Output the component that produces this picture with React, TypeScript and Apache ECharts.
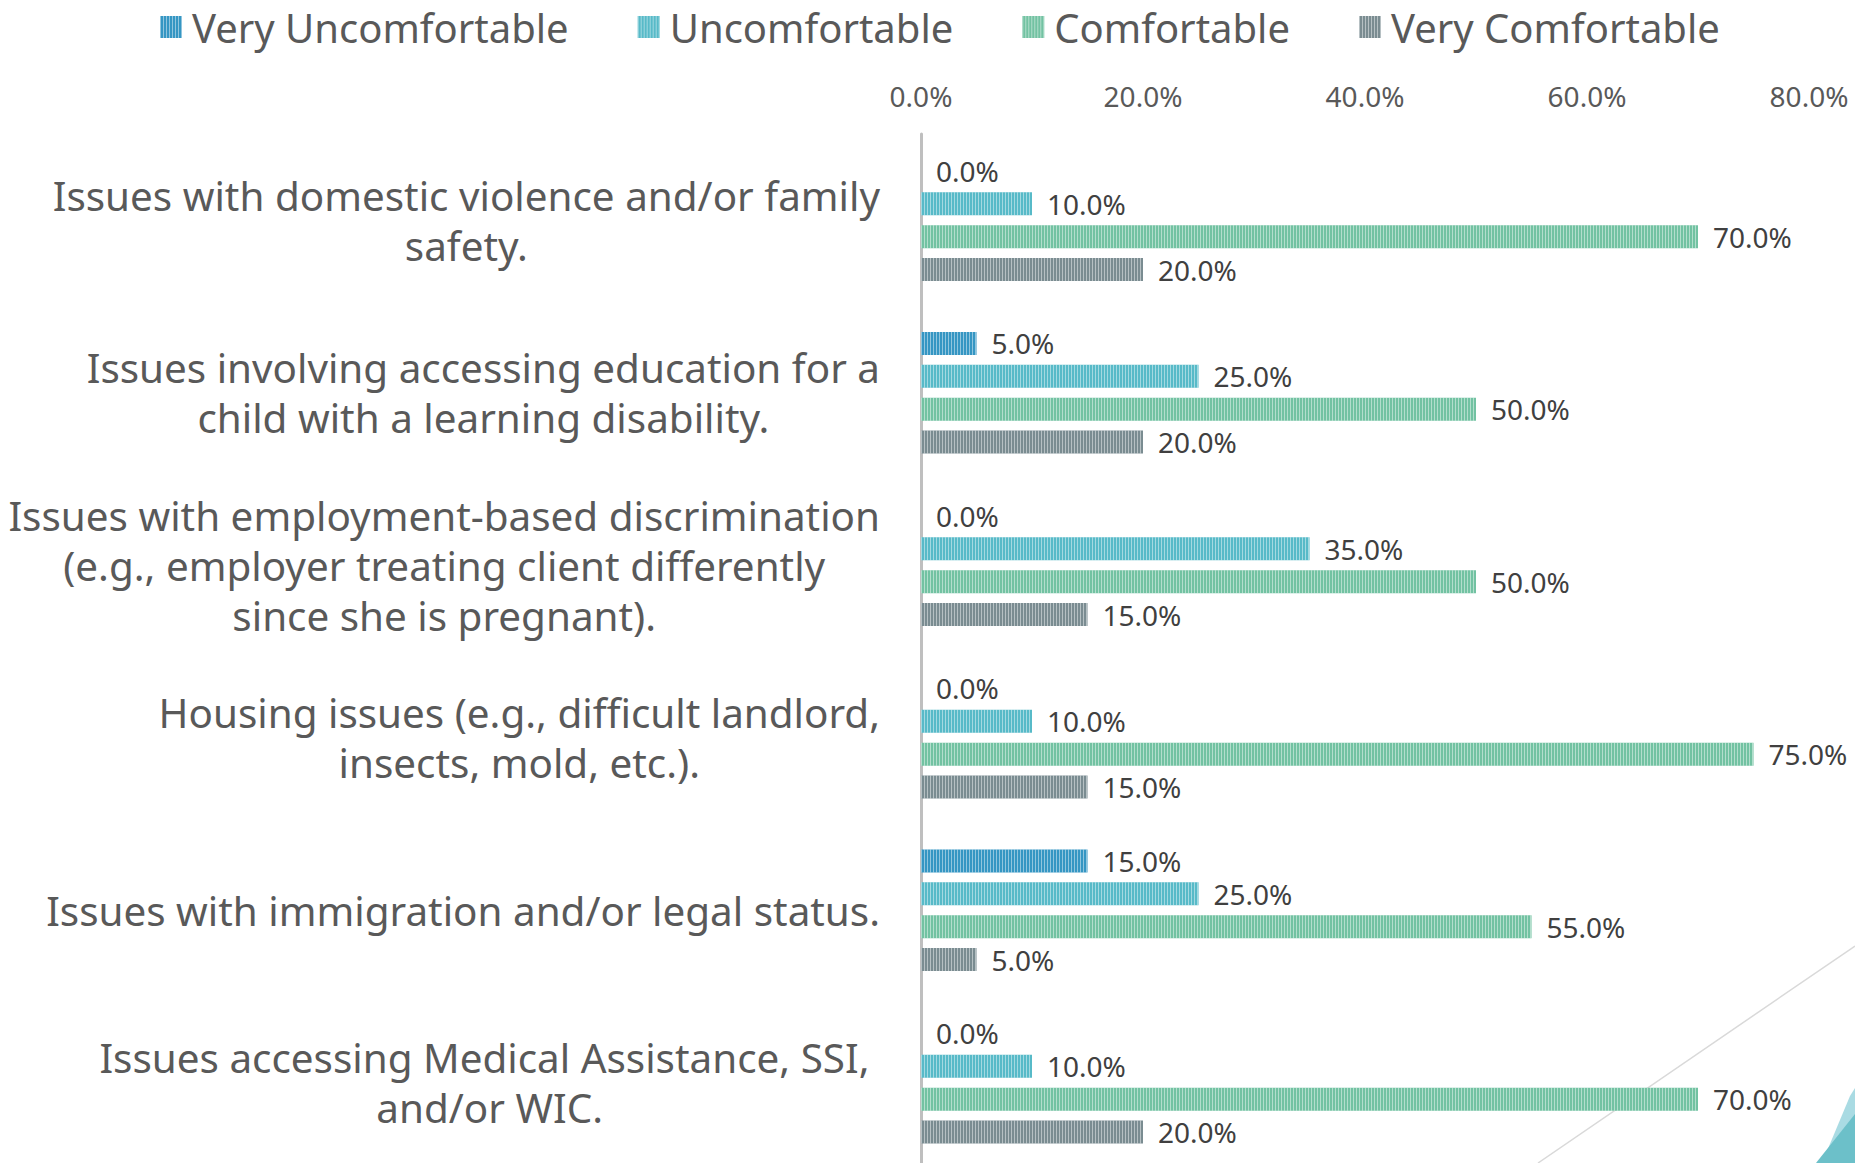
import React, { useEffect, useRef } from "react";
import * as echarts from "echarts";

const categories: string[] = [
  "Issues with domestic violence and/or family\nsafety.",
  "Issues involving accessing education for a\nchild with a learning disability.",
  "Issues with employment-based discrimination\n(e.g., employer treating client differently\nsince she is pregnant).",
  "Housing issues (e.g., difficult landlord,\ninsects, mold, etc.).",
  "Issues with immigration and/or legal status.",
  "Issues accessing Medical Assistance, SSI, \nand/or WIC.",
];

const seriesNames: string[] = ["Very Uncomfortable", "Uncomfortable", "Comfortable", "Very Comfortable"];
const veryUncomfortable: number[] = [0, 5, 0, 0, 15, 0];
const uncomfortable: number[] = [10, 25, 35, 10, 25, 10];
const comfortable: number[] = [70, 50, 50, 75, 55, 70];
const veryComfortable: number[] = [20, 20, 15, 15, 5, 20];
const seriesColors: string[] = ["#3596c3", "#57bac8", "#72c2a2", "#7a8c91"];
const xTicks = { min: 0, max: 80, interval: 20 };

const FONT = "'Noto Sans', 'Open Sans', sans-serif";

export default function App() {
  const ref = useRef<HTMLDivElement>(null);
  useEffect(() => {
    if (!ref.current) return;
    const chart = echarts.init(ref.current, undefined, { renderer: "svg" });
    const values = [veryUncomfortable, uncomfortable, comfortable, veryComfortable];
    const series = seriesNames.map((name, i) => ({
      name,
      type: "bar",
      data: values[i],
      barWidth: 23,
      barGap: "43%",
      itemStyle: {
        color: seriesColors[i],
        decal: {
          symbol: "rect",
          symbolSize: 1,
          color: "rgba(255,255,255,0.45)",
          dashArrayX: [1, 2],
          dashArrayY: [4, 0],
          rotation: 0,
        },
      },
      label: {
        show: true,
        position: "right",
        distance: 15,
        fontFamily: FONT,
        fontSize: 28,
        color: "#404040",
        formatter: (p: any) => Number(p.value).toFixed(1) + "%",
      },
    }));
    chart.setOption({
      animation: false,
      backgroundColor: "#ffffff",
      textStyle: { fontFamily: FONT },
      legend: {
        top: 2,
        left: 155,
        itemWidth: 22,
        itemHeight: 22,
        itemGap: 69,
        icon: "rect",
        textStyle: { fontFamily: FONT, fontSize: 40, color: "#595959", padding: [0, 0, 0, 5] },
        data: seriesNames,
      },
      grid: {
        left: 921,
        right: 46,
        top: 134,
        bottom: -6,
        containLabel: false,
        outerBoundsMode: "none",
      },
      xAxis: {
        type: "value",
        position: "top",
        min: xTicks.min,
        max: xTicks.max,
        interval: xTicks.interval,
        splitLine: { show: false },
        axisLine: { show: false },
        axisTick: { show: false },
        axisLabel: {
          fontFamily: FONT,
          fontSize: 28,
          color: "#595959",
          margin: 24,
          formatter: (v: number) => v.toFixed(1) + "%",
        },
      },
      yAxis: {
        type: "category",
        inverse: true,
        data: categories,
        axisLine: { show: true, lineStyle: { color: "#bfbfbf", width: 3 } },
        axisTick: { show: false },
        axisLabel: {
          margin: 41,
          formatter: (v: string) =>
            v
              .split("\n")
              .map((l) => "{c|" + l + "}")
              .join("\n"),
          rich: {
            c: {
              align: "center",
              fontFamily: FONT,
              fontSize: 40.4,
              lineHeight: 50,
              color: "#595959",
            },
          },
        },
      },
      series,
      graphic: [
        {
          type: "line",
          silent: true,
          shape: { x1: 1538, y1: 1163, x2: 1855, y2: 946 },
          style: { stroke: "#d9d9d9", lineWidth: 1.5 },
          z: -1,
        },
        {
          type: "polygon",
          silent: true,
          shape: { points: [[1822, 1163], [1850, 1096], [1855, 1088], [1855, 1163]] },
          style: { fill: "#a9dbe3" },
        },
        {
          type: "polygon",
          silent: true,
          shape: { points: [[1816, 1163], [1855, 1114], [1855, 1163]] },
          style: { fill: "#6cc0c9" },
        },
      ],
    });
    return () => chart.dispose();
  }, []);
  return (
    <div
      ref={ref}
      style={{ position: "fixed", left: 0, top: 0, width: 1855, height: 1163, background: "#fff" }}
    />
  );
}
